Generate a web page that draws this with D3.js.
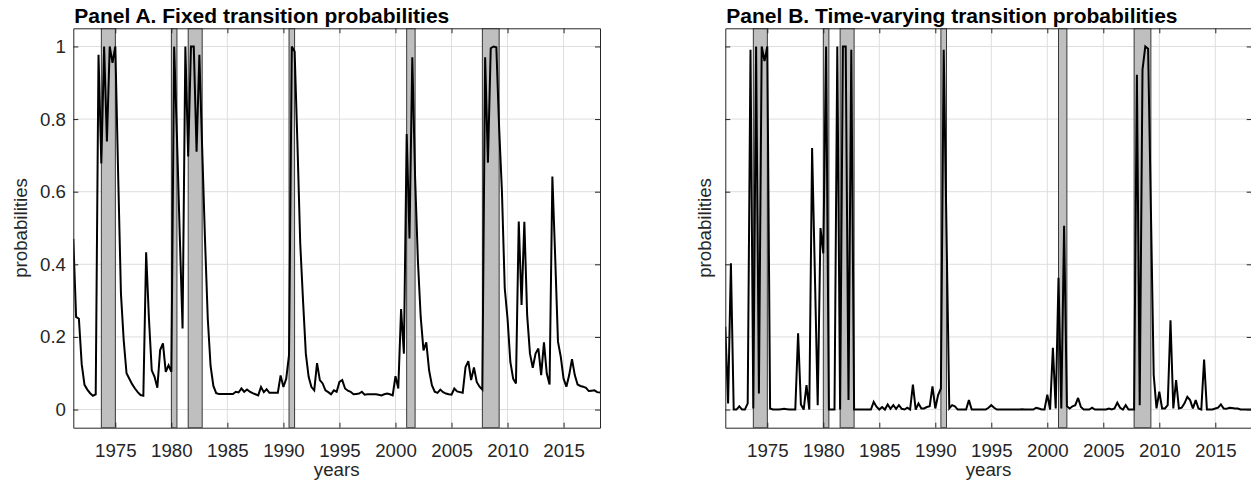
<!DOCTYPE html>
<html>
<head>
<meta charset="utf-8">
<script src="https://cdn.jsdelivr.net/npm/d3@7"></script>
<style>
  html, body { margin: 0; padding: 0; background: #fff; }
  svg { display: block; }
  text { font-family: "Liberation Sans", Arial, Helvetica, sans-serif; }
</style>
</head>
<body>
<svg id="chart" width="1251" height="493"></svg>
<script>
// ---------------- DATA ----------------
const startYear = 1971.25;           // first quarter shown (1971Q2), quarterly data
const xTicks = [1975, 1980, 1985, 1990, 1995, 2000, 2005, 2010, 2015];
const yTicks = [0, 0.2, 0.4, 0.6, 0.8, 1];
const yTickLabels = ["0", "0.2", "0.4", "0.6", "0.8", "1"];
const titles = ["Panel A. Fixed transition probabilities", "Panel B. Time-varying transition probabilities"];
const recessions = [[1973.75, 1975.0], [1980.0, 1980.5], [1981.5, 1982.75], [1990.5, 1991.0], [2001.0, 2001.75], [2007.75, 2009.25]];

const probFixed = [
  0.47, 0.255, 0.25,
  0.125, 0.068, 0.055, 0.045,
  0.038, 0.042, 0.977, 0.678,
  1.0, 0.738, 1.0, 0.955,
  1.0, 0.65, 0.32, 0.19,
  0.1, 0.085, 0.07, 0.058,
  0.048, 0.04, 0.038, 0.433,
  0.25, 0.108, 0.09, 0.06,
  0.164, 0.182, 0.104, 0.122,
  0.104, 1.0, 0.75, 0.48,
  0.223, 1.0, 0.697, 1.0,
  1.0, 0.71, 0.977, 0.72,
  0.47, 0.25, 0.12, 0.065,
  0.045, 0.043, 0.043, 0.043,
  0.043, 0.043, 0.043, 0.049,
  0.047, 0.058, 0.049, 0.055,
  0.049, 0.045, 0.042, 0.039,
  0.062, 0.048, 0.056, 0.046,
  0.046, 0.046, 0.046, 0.094,
  0.062, 0.085, 0.15, 1.0,
  0.986, 0.733, 0.458, 0.3,
  0.154, 0.09, 0.062, 0.053,
  0.128, 0.081, 0.072, 0.053,
  0.048, 0.042, 0.053, 0.049,
  0.076, 0.081, 0.058, 0.052,
  0.049, 0.042, 0.043, 0.044,
  0.049, 0.041, 0.042, 0.042,
  0.042, 0.042, 0.041, 0.039,
  0.042, 0.044, 0.042, 0.039,
  0.092, 0.058, 0.277, 0.154,
  0.759, 0.471, 0.97, 0.64,
  0.41, 0.255, 0.163, 0.185,
  0.108, 0.067, 0.049, 0.046,
  0.055, 0.048, 0.044, 0.042,
  0.041, 0.058, 0.05, 0.048,
  0.046, 0.117, 0.133, 0.081,
  0.116, 0.076, 0.063, 0.055,
  0.97, 0.68, 0.995, 1.0,
  0.998, 0.775, 0.6, 0.334,
  0.25, 0.131, 0.085, 0.072,
  0.518, 0.288, 0.517, 0.26,
  0.154, 0.115, 0.154, 0.168,
  0.095, 0.185, 0.099, 0.069,
  0.642, 0.42, 0.187, 0.145,
  0.085, 0.063, 0.095, 0.139,
  0.095, 0.069, 0.065, 0.063,
  0.06, 0.051, 0.052, 0.053,
  0.048, 0.047
];

const probTimeVarying = [
  0.228, 0.017, 0.403,
  0.0, 0.0, 0.009, 0.0,
  0.0, 0.017, 0.991, 0.003,
  1.0, 0.044, 1.0, 0.96,
  1.0, 0.003, 0.0, 0.0,
  0.0, 0.001, 0.002, 0.001,
  0.0, 0.0, 0.0, 0.21,
  0.014, 0.0, 0.067, 0.0,
  0.72, 0.37, 0.012, 0.5,
  0.43, 1.0, 0.0, 0.0,
  0.0, 1.0, 0.0, 1.0,
  1.0, 0.026, 0.991, 0.0,
  0.0, 0.0, 0.0, 0.0,
  0.0, 0.0, 0.021, 0.008,
  0.0, 0.007, 0.0, 0.014,
  0.002, 0.012, 0.002, 0.012,
  0.002, 0.0, 0.005, 0.0,
  0.069, 0.0, 0.017, 0.003,
  0.003, 0.007, 0.009, 0.064,
  0.003, 0.04, 0.058, 0.991,
  0.49, 0.003, 0.012, 0.009,
  0.0, 0.0, 0.0, 0.0,
  0.026, 0.0, 0.0, 0.0,
  0.0, 0.0, 0.0, 0.005,
  0.012, 0.005, 0.0, 0.0,
  0.0, 0.0, 0.0, 0.0,
  0.0, 0.0, 0.0, 0.001,
  0.0, 0.0, 0.0, 0.0,
  0.005, 0.003, 0.0, 0.0,
  0.041, 0.0, 0.17, 0.003,
  0.363, 0.003, 0.506, 0.009,
  0.003, 0.009, 0.012, 0.032,
  0.007, 0.0, 0.0, 0.0,
  0.005, 0.0, 0.0, 0.0,
  0.0, 0.0, 0.003, 0.0,
  0.003, 0.019, 0.005, 0.0,
  0.012, 0.0, 0.0, 0.0,
  0.922, 0.012, 0.936, 1.0,
  0.994, 0.55, 0.095, 0.003,
  0.049, 0.003, 0.003, 0.012,
  0.246, 0.003, 0.081, 0.003,
  0.005, 0.017, 0.035, 0.026,
  0.003, 0.026, 0.003, 0.0,
  0.138, 0.0, 0.0, 0.0,
  0.003, 0.005, 0.014, 0.003,
  0.002, 0.005, 0.004, 0.003,
  0.003, 0.0, 0.0, 0.0,
  0.0, 0.0
];

// ---------------- DRAW ----------------
const svg = d3.select("#chart");
const axisColor = "#262626";
const gridColor = "#dedede";
const tickFont = 18.7;
const plotTop = 28.3, plotBottom = 427.7;

const panels = [
  { left: 73.3, right: 600, values: probFixed, title: titles[0], showYLabels: true, ylabelX: 27 },
  { left: 725.3, right: 1251.7, values: probTimeVarying, title: titles[1], showYLabels: false, ylabelX: 711 }
];

const y = d3.scaleLinear().domain([-0.05, 1.05]).range([plotBottom, plotTop]);

panels.forEach((p, pi) => {
  const x = d3.scaleLinear().domain([1971.25, 2018.25]).range([p.left, p.right]);
  const g = svg.append("g");
  const clipId = "clip" + pi;
  svg.append("clipPath").attr("id", clipId)
    .append("rect").attr("x", p.left).attr("y", plotTop).attr("width", p.right - p.left).attr("height", plotBottom - plotTop);

  // grid
  g.append("g").selectAll("line").data(xTicks).join("line")
    .attr("x1", d => x(d)).attr("x2", d => x(d)).attr("y1", plotTop).attr("y2", plotBottom)
    .attr("stroke", gridColor).attr("stroke-width", 1);
  g.append("g").selectAll("line").data(yTicks).join("line")
    .attr("x1", p.left).attr("x2", p.right).attr("y1", d => y(d)).attr("y2", d => y(d))
    .attr("stroke", gridColor).attr("stroke-width", 1);

  // recession bands
  g.append("g").attr("clip-path", `url(#${clipId})`).selectAll("rect").data(recessions).join("rect")
    .attr("x", d => x(d[0])).attr("width", d => x(d[1]) - x(d[0]))
    .attr("y", plotTop).attr("height", plotBottom - plotTop)
    .attr("fill", "#bfbfbf").attr("stroke", "#262626").attr("stroke-width", 0.9);

  // line
  const pts = p.values.map((v, i) => [startYear + i / 4, v]);
  g.append("path").datum(pts).attr("clip-path", `url(#${clipId})`)
    .attr("fill", "none").attr("stroke", "#000").attr("stroke-width", 2)
    .attr("stroke-linejoin", "miter").attr("stroke-miterlimit", 3)
    .attr("d", d3.line().x(d => x(d[0])).y(d => y(d[1])));

  // axes
  const fmt = d3.format("d");
  const bAxis = d3.axisBottom(x).tickValues(xTicks).tickFormat(fmt).tickSizeInner(-5).tickSizeOuter(0).tickPadding(16);
  const tAxis = d3.axisTop(x).tickValues(xTicks).tickFormat("").tickSizeInner(-5).tickSizeOuter(0);
  const lAxis = d3.axisLeft(y).tickValues(yTicks).tickFormat((d, i) => p.showYLabels ? yTickLabels[i] : "")
    .tickSizeInner(-5).tickSizeOuter(0).tickPadding(7.3);
  const rAxis = d3.axisRight(y).tickValues(yTicks).tickFormat("").tickSizeInner(-5).tickSizeOuter(0);

  const axes = [
    g.append("g").attr("transform", `translate(0,${plotBottom})`).call(bAxis),
    g.append("g").attr("transform", `translate(0,${plotTop})`).call(tAxis),
    g.append("g").attr("transform", `translate(${p.left},0)`).call(lAxis),
    g.append("g").attr("transform", `translate(${p.right},0)`).call(rAxis)
  ];
  axes.forEach(a => {
    a.attr("font-family", null).attr("font-size", null);
    a.select(".domain").attr("stroke", axisColor).attr("stroke-width", 1);
    a.selectAll(".tick line").attr("stroke", axisColor).attr("stroke-width", 1);
    a.selectAll(".tick text").attr("fill", axisColor).style("font-size", tickFont + "px")
      .style("font-family", '"Liberation Sans", Arial, sans-serif');
  });

  // title
  svg.append("text").attr("x", p.left + 1).attr("y", 23)
    .attr("font-weight", "bold").attr("font-size", "21px").attr("fill", "#000")
    .text(p.title);

  // x label
  svg.append("text").attr("x", (p.left + p.right) / 2).attr("y", 476)
    .attr("text-anchor", "middle").attr("font-size", tickFont + "px").attr("fill", axisColor)
    .text("years");

  // y label
  svg.append("text").attr("transform", `translate(${p.ylabelX},${(plotTop + plotBottom) / 2}) rotate(-90)`)
    .attr("text-anchor", "middle").attr("font-size", tickFont + "px").attr("fill", axisColor)
    .text("probabilities");
});
</script>
</body>
</html>
